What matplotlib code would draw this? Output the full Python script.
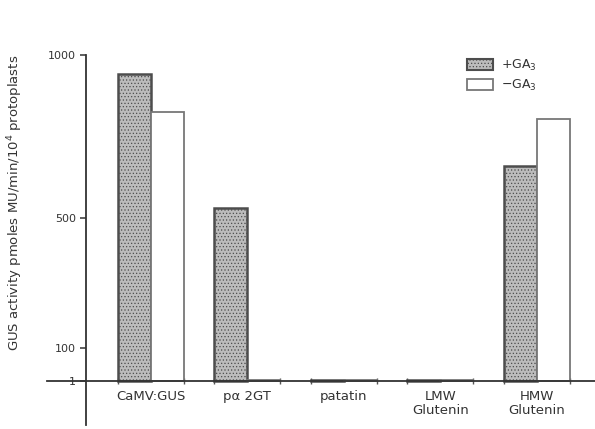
import matplotlib
matplotlib.use("Agg")
from matplotlib import pyplot as plt
from matplotlib.patches import Patch
import numpy as np

categories = ["CaMV:GUS", "p\u03b1 2GT", "patatin", "LMW\nGlutenin", "HMW\nGlutenin"]
plus_ga = [942, 531, 3, 3, 658]
minus_ga = [825, 3, 3, 3, 802]
yticks = [1, 100, 500, 1000]

plt.rcParams['font.family'] = 'DejaVu Sans'
plt.rcParams['hatch.linewidth'] = 0.5
ink = '#333333'
fill = '#bcbcbc'
dark_edge = '#4d4d4d'

fig = plt.figure(figsize=(5.95, 4.29), dpi=100)
ax = fig.add_axes([0.079, 0.0093, 0.921, 0.874])

x = np.arange(len(categories))
w = 0.342
ax.bar(x - w/2, plus_ga, w, facecolor=fill, edgecolor=dark_edge,
       hatch='.....', linewidth=1.8, label='+GA$_3$', zorder=2)
ax.bar(x + w/2, minus_ga, w, facecolor='white', edgecolor='#777777',
       linewidth=1.3, label='\u2212GA$_3$', zorder=2)

ax.set_xlim(-1.079, 4.606)
ax.set_ylim(-135.4, 1013.9)

for s in ['top', 'right']:
    ax.spines[s].set_visible(False)
ax.spines['left'].set_position(('data', -0.674))
ax.spines['left'].set_bounds(-135.4, 1000)
ax.spines['bottom'].set_position(('data', 1))
for s in ['left', 'bottom']:
    ax.spines[s].set_color(ink)
    ax.spines[s].set_linewidth(1.3)

ax.set_yticks(yticks)
ax.set_yticklabels([str(t) for t in yticks], fontsize=8, color=ink)
ax.tick_params(axis='y', direction='out', length=4, width=1.1, color=ink, pad=3)

ax.set_xticks(x)
ax.set_xticklabels(categories, fontsize=9.5, color=ink, va='top', linespacing=1.1)
ax.tick_params(axis='x', length=0, pad=7)
ax.set_xticks(np.concatenate([x - w, x, x + w]), minor=True)
ax.tick_params(axis='x', which='minor', direction='inout', length=5, width=1.0, color='#555555')

fig.text(15/595, 1 - 203/429, 'GUS activity pmoles MU/min/10$^4$ protoplasts',
         rotation=90, ha='center', va='center', fontsize=9.5, color=ink)

handles = [Patch(facecolor=fill, edgecolor=dark_edge, hatch='.....', linewidth=1.5, label='+GA$_3$'),
           Patch(facecolor='white', edgecolor='#777777', linewidth=1.3, label='\u2212GA$_3$')]
ax.legend(handles=handles, loc='upper left', bbox_to_anchor=(467/595, 1 - 58/429),
          bbox_transform=fig.transFigure, frameon=False, fontsize=9,
          handlelength=2.1, handleheight=0.95, labelspacing=0.35, handletextpad=0.6,
          borderpad=0, borderaxespad=0, labelcolor=ink)

fig.savefig('out.png', dpi=100)
